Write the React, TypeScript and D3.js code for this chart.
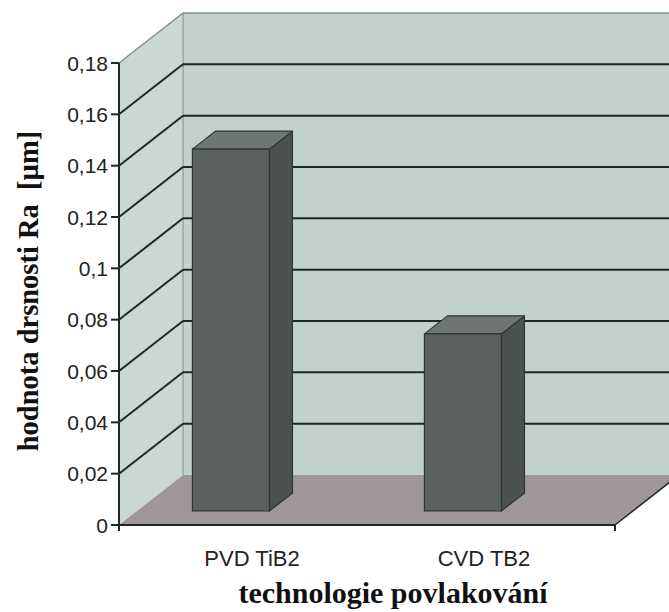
import React from "react";
import * as d3 from "d3";

// Surface roughness Ra by coating technology
const categories = ["PVD TiB2", "CVD TB2"];
const roughness = [0.141, 0.069];
const yTicks = [0, 0.02, 0.04, 0.06, 0.08, 0.1, 0.12, 0.14, 0.16, 0.18];
const yTickLabels = ["0", "0,02", "0,04", "0,06", "0,08", "0,1", "0,12", "0,14", "0,16", "0,18"];
const yTitle = "hodnota drsnosti Ra\u00a0 [µm]";
const xTitle = "technologie povlakování";

const W = 669;
const H = 612;

// front frame of the 3D plot box and its depth vector
const axisX = 119;
const floorRight = 615;
const y0 = 525;
const yTop = 63;
const DX = 64;
const DY = -50;

// bar placement inside the box depth
const barFront = 0.28;
const barDepth = 0.36;
const barWidth = 77;
const labelShift = 39;

const colors = {
  backWall: "#c3d1ce",
  leftWall: "#cbd7d4",
  floor: "#9e9698",
  grid: "#1f2624",
  edge: "#848c8a",
  barFront: "#5b615f",
  barTop: "#6f7573",
  barSide: "#4a514f",
  barEdge: "#2f3533",
  text: "#232323",
};

const pts = (p: [number, number][]) => p.map((d) => d.join(",")).join(" ");

export default function App() {
  const y = d3.scaleLinear().domain([0, 0.18]).range([y0, yTop]);
  const x = d3.scalePoint<string>().domain(categories).range([213, 445]);
  const maxTick = yTicks[yTicks.length - 1];

  const bx = DX * barFront;
  const by = DY * barFront;
  const ddx = DX * barDepth;
  const ddy = DY * barDepth;

  return (
    <svg
      width={W}
      height={H}
      style={{ position: "absolute", left: 0, top: 0, background: "#fff" }}
    >
      {/* back wall */}
      <polygon
        points={pts([
          [axisX + DX, y0 + DY],
          [floorRight + DX, y0 + DY],
          [floorRight + DX, yTop + DY],
          [axisX + DX, yTop + DY],
        ])}
        fill={colors.backWall}
      />
      {/* left wall */}
      <polygon
        points={pts([
          [axisX, y0],
          [axisX + DX, y0 + DY],
          [axisX + DX, yTop + DY],
          [axisX, yTop],
        ])}
        fill={colors.leftWall}
      />
      {/* floor */}
      <polygon
        points={pts([
          [axisX, y0],
          [floorRight, y0],
          [floorRight + DX, y0 + DY],
          [axisX + DX, y0 + DY],
        ])}
        fill={colors.floor}
      />
      {/* wall edges */}
      <line
        x1={axisX + DX}
        y1={y0 + DY}
        x2={axisX + DX}
        y2={yTop + DY}
        stroke={colors.edge}
        strokeWidth={1}
      />
      {/* gridlines on both walls */}
      {yTicks
        .filter((v) => v > 0)
        .map((v) => {
          const top = v === maxTick;
          const stroke = top ? colors.edge : colors.grid;
          const sw = top ? 1.5 : 2;
          return (
            <g key={v}>
              <line
                x1={axisX}
                y1={y(v)}
                x2={axisX + DX}
                y2={y(v) + DY}
                stroke={stroke}
                strokeWidth={sw}
              />
              <line
                x1={axisX + DX}
                y1={y(v) + DY}
                x2={floorRight + DX}
                y2={y(v) + DY}
                stroke={stroke}
                strokeWidth={sw}
              />
            </g>
          );
        })}

      {/* bars */}
      {categories.map((c, i) => {
        const v = roughness[i];
        const l = (x(c) as number) - barWidth / 2 + bx;
        const r = l + barWidth;
        const t = y(v) + by;
        const b = y(0) + by;
        return (
          <g key={c} stroke={colors.barEdge} strokeWidth={1.2} strokeLinejoin="round">
            <polygon
              points={pts([
                [r, b],
                [r + ddx, b + ddy],
                [r + ddx, t + ddy],
                [r, t],
              ])}
              fill={colors.barSide}
            />
            <polygon
              points={pts([
                [l, t],
                [r, t],
                [r + ddx, t + ddy],
                [l + ddx, t + ddy],
              ])}
              fill={colors.barTop}
            />
            <rect x={l} y={t} width={barWidth} height={b - t} fill={colors.barFront} />
          </g>
        );
      })}

      {/* floor front and right edges */}
      <line x1={axisX} y1={y0} x2={floorRight} y2={y0} stroke={colors.grid} strokeWidth={2} />
      <line
        x1={floorRight}
        y1={y0}
        x2={floorRight + DX}
        y2={y0 + DY}
        stroke={colors.grid}
        strokeWidth={1.5}
      />
      <line x1={floorRight} y1={y0} x2={floorRight} y2={y0 + 6} stroke={colors.grid} strokeWidth={2} />

      {/* value axis */}
      <line x1={axisX} y1={yTop} x2={axisX} y2={y0 + 6} stroke={colors.grid} strokeWidth={2} />
      {yTicks.map((v, i) => (
        <g key={v}>
          <line x1={axisX - 8} y1={y(v)} x2={axisX} y2={y(v)} stroke={colors.grid} strokeWidth={2} />
          <text
            x={axisX - 11}
            y={y(v)}
            dy="0.36em"
            textAnchor="end"
            fontFamily="'Liberation Sans', Arial, sans-serif"
            fontSize={21}
            fill={colors.text}
          >
            {yTickLabels[i]}
          </text>
        </g>
      ))}

      {/* category labels */}
      {categories.map((c) => (
        <text
          key={c}
          x={(x(c) as number) + labelShift}
          y={566}
          textAnchor="middle"
          fontFamily="'Liberation Sans', Arial, sans-serif"
          fontSize={22}
          fill={colors.text}
        >
          {c}
        </text>
      ))}

      {/* axis titles */}
      <text
        transform={`translate(38, 291) rotate(-90)`}
        textAnchor="middle"
        fontFamily="'Liberation Serif', 'Times New Roman', serif"
        fontWeight="bold"
        fontSize={28.5}
        fill="#111"
        style={{ whiteSpace: "pre" }}
      >
        {yTitle}
      </text>
      <text
        x={393}
        y={603}
        textAnchor="middle"
        fontFamily="'Liberation Serif', 'Times New Roman', serif"
        fontWeight="bold"
        fontSize={30}
        fill="#111"
      >
        {xTitle}
      </text>
    </svg>
  );
}
